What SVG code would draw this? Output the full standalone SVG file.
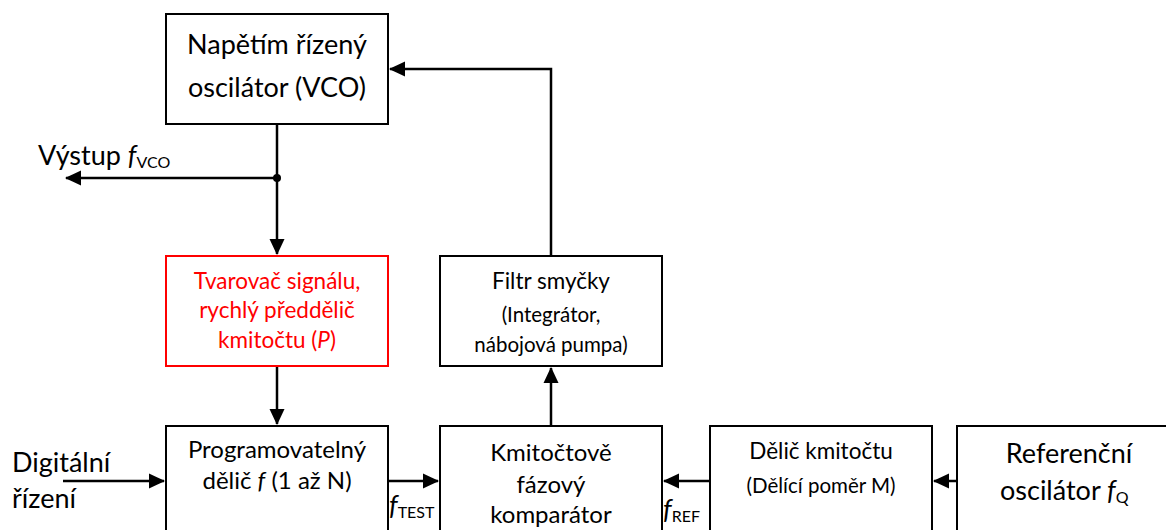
<svg xmlns="http://www.w3.org/2000/svg" width="1166" height="530" viewBox="0 0 1166 530">
<style>
  .box{fill:#fff;stroke:#000;stroke-width:2}
  .red{fill:#fff;stroke:#ff0000;stroke-width:2}
  text{font-family:Lato,"Liberation Sans",sans-serif;fill:#000}
  .L{font-size:27px}
  .B{font-size:24px}
  .M{font-size:22.5px}
  .S{font-size:20.5px}
  .c{text-anchor:middle}
  .rt{fill:#ff0000}
  .i{font-style:italic}
  .sub{font-size:16px}
  .con{fill:none;stroke:#000;stroke-width:2.5}
</style>
<defs>
  <marker id="arr" markerUnits="userSpaceOnUse" markerWidth="16" markerHeight="16" viewBox="0 0 16 16" refX="15" refY="8" orient="auto">
    <path d="M0,0.5 L16,8 L0,15.5 z" fill="#000"/>
  </marker>
</defs>

<g id="connectors">
  <path class="con" d="M551,256 V69 H390" marker-end="url(#arr)"/>
  <path class="con" d="M277,124 V254" marker-end="url(#arr)"/>
  <path class="con" d="M277,178 H66" marker-end="url(#arr)"/>
  <circle cx="277" cy="178" r="4" fill="#000"/>
  <path class="con" d="M277,366 V424" marker-end="url(#arr)"/>
  <path class="con" d="M63,481 H164" marker-end="url(#arr)"/>
  <path class="con" d="M388,481 H438" marker-end="url(#arr)"/>
  <path class="con" d="M551,426 V368" marker-end="url(#arr)"/>
  <path class="con" d="M710,481 H664" marker-end="url(#arr)"/>
  <path class="con" d="M957,481 H934" marker-end="url(#arr)"/>
</g>

<g id="vco">
  <rect class="box" x="166" y="14" width="222" height="110"/>
  <text class="L c" x="277" y="54">Napětím řízený</text>
  <text class="L c" x="277" y="97">oscilátor (VCO)</text>
</g>

<g id="vystup">
  <text class="L" x="38" y="165">Výstup <tspan class="i">f</tspan><tspan class="sub" dy="3">VCO</tspan></text>
</g>

<g id="tvarovac">
  <rect class="red" x="166" y="256" width="222" height="110"/>
  <text class="M c rt" x="277" y="289">Tvarovač signálu,</text>
  <text class="M c rt" x="277" y="318">rychlý předdělič</text>
  <text class="M c rt" x="277" y="348">kmitočtu (<tspan class="i">P</tspan>)</text>
</g>

<g id="filtr">
  <rect class="box" x="440" y="256" width="222" height="110"/>
  <text class="M c" x="551" y="289">Filtr smyčky</text>
  <text class="S c" x="551" y="322">(Integrátor,</text>
  <text class="S c" x="551" y="352">nábojová pumpa)</text>
</g>

<g id="digital">
  <text class="L" x="12" y="472">Digitální</text>
  <text class="L" x="12" y="508">řízení</text>
</g>

<g id="programovatelny">
  <rect class="box" x="166" y="426" width="222" height="120"/>
  <text class="B c" x="277" y="458">Programovatelný</text>
  <text class="B c" x="277" y="489">dělič <tspan class="i">f</tspan> (1 až N)</text>
</g>

<g id="ftest">
  <text class="L" x="389" y="515"><tspan class="i">f</tspan><tspan class="sub" dy="3">TEST</tspan></text>
</g>

<g id="komparator">
  <rect class="box" x="440" y="426" width="222" height="120"/>
  <text class="B c" x="551" y="461">Kmitočtově</text>
  <text class="B c" x="551" y="493">fázový</text>
  <text class="B c" x="551" y="523">komparátor</text>
</g>

<g id="fref">
  <text class="L" x="663" y="519"><tspan class="i">f</tspan><tspan class="sub" dy="3">REF</tspan></text>
</g>

<g id="delic">
  <rect class="box" x="710" y="426" width="222" height="120"/>
  <text class="M c" x="821" y="459">Dělič kmitočtu</text>
  <text class="S c" x="821" y="493">(Dělící poměr M)</text>
</g>

<g id="referencni">
  <rect class="box" x="957" y="426" width="225" height="120"/>
  <text class="L c" x="1069" y="463">Referenční</text>
  <text class="L" x="1000" y="500">oscilátor <tspan class="i">f</tspan><tspan class="sub" dy="3">Q</tspan></text>
</g>
</svg>
